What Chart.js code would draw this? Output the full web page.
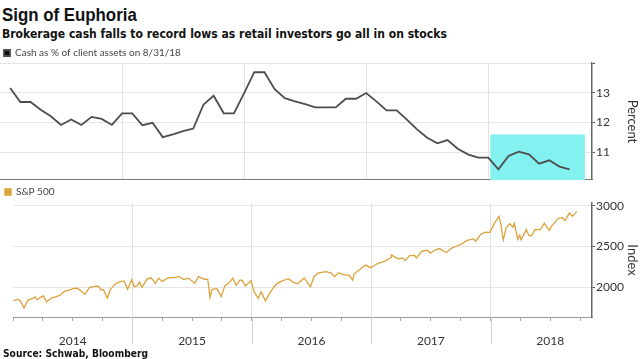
<!DOCTYPE html>
<html>
<head>
<meta charset="utf-8">
<script src="https://cdn.jsdelivr.net/npm/chart.js@4/dist/chart.umd.min.js"></script>
<style>
  html, body { margin: 0; padding: 0; background: #fff; }
  body { width: 640px; height: 359px; position: relative; overflow: hidden; }
  .txt { position: absolute; left: 2px; white-space: nowrap; transform-origin: 0 0; color: #111; line-height: 1; }
  #title { top: 4px; font: bold 18.6px 'Liberation Sans', Arial, sans-serif; }
  #subtitle { top: 27px; font: bold 11.5px 'DejaVu Sans', Verdana, sans-serif; }
  #source { top: 347px; left: 3px; font: bold 11px 'DejaVu Sans', Verdana, sans-serif; }
  .panel { position: absolute; left: 0; width: 640px; }
  #cashWrap { top: 44px; height: 136px; }
  #spxWrap { top: 182px; height: 170px; }
</style>
</head>
<body>
<span class="txt" id="title">Sign of Euphoria</span>
<span class="txt" id="subtitle">Brokerage cash falls to record lows as retail investors go all in on stocks</span>
<div class="panel" id="cashWrap"><canvas id="cashChart"></canvas></div>
<div class="panel" id="spxWrap"><canvas id="spxChart"></canvas></div>
<span class="txt" id="source">Source: Schwab, Bloomberg</span>
<script>
// Cash as % of client assets, month-end readings
const cashMonths = [
  '2014-01','2014-02','2014-03','2014-04','2014-05','2014-06','2014-07','2014-08','2014-09','2014-10','2014-11','2014-12',
  '2015-01','2015-02','2015-03','2015-04','2015-05','2015-06','2015-07','2015-08','2015-09','2015-10','2015-11','2015-12',
  '2016-01','2016-02','2016-03','2016-04','2016-05','2016-06','2016-07','2016-08','2016-09','2016-10','2016-11','2016-12',
  '2017-01','2017-02','2017-03','2017-04','2017-05','2017-06','2017-07','2017-08','2017-09','2017-10','2017-11','2017-12',
  '2018-01','2018-02','2018-03','2018-04','2018-05','2018-06','2018-07','2018-08'
];
const cashValues = [
  13.16, 12.69, 12.69, 12.43, 12.21, 11.92, 12.10, 11.92, 12.19, 12.12, 11.92, 12.31,
  12.31, 11.91, 11.99, 11.51, 11.60, 11.71, 11.80, 12.60, 12.90, 12.31, 12.31, 12.99,
  13.69, 13.69, 13.12, 12.82, 12.71, 12.62, 12.51, 12.51, 12.51, 12.80, 12.80, 12.99,
  12.71, 12.41, 12.41, 12.10, 11.77, 11.49, 11.30, 11.41, 11.12, 10.93, 10.82, 10.82,
  10.43, 10.88, 11.02, 10.93, 10.62, 10.73, 10.52, 10.43
];

// S&P 500 closes (sampled)
const spxDates = [
  '2014-01-02','2014-01-15','2014-01-23','2014-02-03','2014-02-14','2014-02-28','2014-03-07','2014-03-14','2014-03-21',
  '2014-04-02','2014-04-11','2014-04-25','2014-05-09','2014-05-23','2014-06-06','2014-06-20','2014-07-03','2014-07-16',
  '2014-07-31','2014-08-07','2014-08-21','2014-09-05','2014-09-18','2014-09-25','2014-10-03','2014-10-15','2014-10-24',
  '2014-11-07','2014-11-21','2014-12-05','2014-12-16','2014-12-29',
  '2015-01-06','2015-01-16','2015-01-22','2015-01-30','2015-02-13','2015-02-25','2015-03-10','2015-03-20','2015-03-31',
  '2015-04-15','2015-04-24','2015-05-08','2015-05-21','2015-06-05','2015-06-19','2015-07-08','2015-07-20','2015-08-05',
  '2015-08-18','2015-08-25','2015-08-31','2015-09-15','2015-09-28','2015-10-09','2015-10-22','2015-11-03','2015-11-13',
  '2015-11-25','2015-12-02','2015-12-11','2015-12-29',
  '2016-01-07','2016-01-20','2016-01-29','2016-02-11','2016-02-23','2016-03-07','2016-03-18','2016-04-01','2016-04-20',
  '2016-05-06','2016-05-19','2016-06-08','2016-06-27','2016-07-08','2016-07-22','2016-08-15','2016-08-31','2016-09-09',
  '2016-09-22','2016-10-07','2016-10-25','2016-11-04','2016-11-09','2016-11-25','2016-12-13','2016-12-30',
  '2017-01-13','2017-01-26','2017-02-10','2017-02-28','2017-03-01','2017-03-22','2017-04-06','2017-04-13','2017-04-26',
  '2017-05-12','2017-05-17','2017-06-02','2017-06-19','2017-06-29','2017-07-14','2017-07-27','2017-08-10','2017-08-18',
  '2017-09-01','2017-09-15','2017-10-02','2017-10-20','2017-11-08','2017-11-15','2017-11-30','2017-12-15','2017-12-29',
  '2018-01-12','2018-01-26','2018-02-02','2018-02-05','2018-02-08','2018-02-16','2018-02-26','2018-03-08','2018-03-12',
  '2018-03-23','2018-03-29','2018-04-02','2018-04-18','2018-04-25','2018-05-03','2018-05-15','2018-05-31','2018-06-12',
  '2018-06-27','2018-07-06','2018-07-25','2018-08-07','2018-08-15','2018-08-29','2018-09-07','2018-09-20'
];
const spxValues = [
  1832, 1848, 1828, 1741, 1838, 1859, 1878, 1841, 1866,
  1890, 1815, 1863, 1878, 1900, 1949, 1962, 1985, 1982,
  1931, 1910, 1992, 2007, 2011, 1965, 1967, 1862, 1964,
  2032, 2063, 2075, 1972, 2090,
  2003, 2019, 2063, 1995, 2097, 2114, 2044, 2108, 2068,
  2106, 2117, 2116, 2131, 2092, 2110, 2046, 2128, 2099,
  2096, 1867, 1972, 1979, 1881, 2014, 2052, 2109, 2023,
  2088, 2079, 2012, 2078,
  1944, 1859, 1940, 1829, 1921, 2001, 2049, 2073, 2102,
  2057, 2040, 2112, 2001, 2130, 2175, 2190, 2171, 2128,
  2177, 2153, 2143, 2085, 2163, 2213, 2271, 2239,
  2275, 2297, 2316, 2364, 2396, 2349, 2357, 2329, 2387,
  2390, 2357, 2439, 2453, 2419, 2459, 2475, 2438, 2425,
  2477, 2500, 2529, 2575, 2594, 2565, 2648, 2676, 2674,
  2786, 2873, 2762, 2649, 2581, 2732, 2780, 2738, 2784,
  2588, 2641, 2582, 2708, 2639, 2630, 2711, 2705, 2787,
  2700, 2760, 2846, 2858, 2819, 2914, 2872, 2931
];

const yearLabels = ['2014', '2015', '2016', '2017', '2018'];
const percentTicks = [11, 12, 13, 14];
const indexTicks = [2000, 2500, 3000];

// shaded "record low" window, in months since end of 2013 and percent
const highlightFrom = 48.2;
const highlightTo = 57.5;
const highlightTop = 11.6;

// x axis runs in months since 2013-12-31
const xMin = 0;
const xMax = 58.2;

function monthPos(str) {
  const p = str.split('-').map(Number);
  const y = p[0], m = p[1];
  const dim = new Date(y, m, 0).getDate();
  const d = p.length > 2 ? p[2] : dim;
  return (y - 2014) * 12 + (m - 1) + d / dim;
}

const cashPoints = cashMonths.map((m, i) => ({ x: monthPos(m), y: cashValues[i] }));
const spxPoints = spxDates.map((d, i) => ({ x: monthPos(d), y: spxValues[i] }));

const labelFont = { family: 'Lato, "Liberation Sans", sans-serif', size: 12 };
const legendFont = { family: '"Liberation Sans Narrow", Lato, sans-serif', size: 10 };
const quarterTicks = (scale) => {
  const t = [];
  for (let v = 0; v <= 57; v += 3) t.push({ value: v });
  scale.ticks = t;
};
const yearGrid = (ctx) => (ctx.tick && ctx.tick.value % 12 === 0 && ctx.tick.value > 0) ? '#e2e2e2' : 'rgba(0,0,0,0)';
// fixed axis width on the right so both panels line up
const fixRightAxis = (s) => { s.width = 48; s.paddingTop = 0; s.paddingBottom = 0; };

const highlightBox = {
  id: 'highlightBox',
  beforeDatasetsDraw(chart) {
    const { ctx, scales: { x, y } } = chart;
    const left = x.getPixelForValue(highlightFrom);
    const right = x.getPixelForValue(highlightTo);
    const top = y.getPixelForValue(highlightTop);
    const bottom = y.getPixelForValue(y.min);
    ctx.save();
    ctx.fillStyle = '#84f1f1';
    ctx.fillRect(left, top, right - left, bottom - top);
    ctx.restore();
  }
};

const yearTicks = {
  id: 'yearTicks',
  afterDraw(chart) {
    const { ctx, chartArea, scales: { x } } = chart;
    ctx.save();
    ctx.strokeStyle = '#d2d2d2';
    ctx.lineWidth = 1;
    [12, 24, 36, 48].forEach(v => {
      const px = Math.round(x.getPixelForValue(v)) + 0.5;
      ctx.beginPath();
      ctx.moveTo(px, chartArea.bottom);
      ctx.lineTo(px, chartArea.bottom + 27);
      ctx.stroke();
    });
    ctx.restore();
  }
};

new Chart(document.getElementById('cashChart'), {
  type: 'line',
  data: {
    datasets: [{
      label: 'Cash as % of client assets on 8/31/18',
      data: cashPoints,
      borderColor: '#4d4d4d',
      backgroundColor: '#111',
      borderWidth: 1.8,
      pointRadius: 0,
      tension: 0
    }]
  },
  options: {
    responsive: true,
    maintainAspectRatio: false,
    animation: false,
    devicePixelRatio: 1,
    layout: { padding: 0 },
    plugins: {
      legend: {
        position: 'top',
        align: 'start',
        maxHeight: 19,
        labels: { boxWidth: 6, boxHeight: 6, padding: 4, color: '#444', font: legendFont }
      },
      tooltip: { enabled: false }
    },
    scales: {
      x: {
        type: 'linear', min: xMin, max: xMax,
        afterBuildTicks: quarterTicks,
        afterFit: (s) => { s.height = 0; },
        ticks: { display: false },
        grid: { color: yearGrid, drawTicks: false },
        border: { color: '#7a7a7a', width: 2.5 }
      },
      y: {
        position: 'right', min: 10.07, max: 14,
        afterBuildTicks: (s) => { s.ticks = percentTicks.map(v => ({ value: v })); },
        afterFit: fixRightAxis,
        ticks: { color: '#333', font: labelFont, padding: 1, callback: (v) => v === 14 ? '' : String(v) },
        grid: { color: '#e6e6e6', tickLength: 3, tickColor: '#555' },
        border: { color: '#666', width: 1.5 },
        title: { display: true, text: 'Percent', color: '#333', font: { family: labelFont.family, size: 13 }, padding: { top: 0, bottom: 2 } }
      }
    }
  },
  plugins: [highlightBox]
});

new Chart(document.getElementById('spxChart'), {
  type: 'line',
  data: {
    datasets: [{
      label: 'S&P 500',
      data: spxPoints,
      borderColor: '#dda23c',
      backgroundColor: '#e8a23a',
      borderWidth: 1.3,
      pointRadius: 0,
      tension: 0
    }]
  },
  options: {
    responsive: true,
    maintainAspectRatio: false,
    animation: false,
    devicePixelRatio: 1,
    layout: { padding: 0 },
    plugins: {
      legend: {
        position: 'top',
        align: 'start',
        maxHeight: 21,
        labels: { boxWidth: 6, boxHeight: 6, padding: 5, color: '#444', font: legendFont }
      },
      tooltip: { enabled: false }
    },
    scales: {
      x: {
        type: 'linear', min: xMin, max: xMax,
        afterBuildTicks: quarterTicks,
        afterFit: (s) => { s.height = 35; },
        ticks: {
          color: '#333', font: labelFont, padding: 13, maxRotation: 0, autoSkip: false,
          callback: (v) => v % 12 === 6 ? yearLabels[(v - 6) / 12] : ''
        },
        grid: { color: yearGrid, tickLength: 4, tickColor: '#aaa' },
        border: { color: '#999', width: 1 }
      },
      y: {
        position: 'right', min: 1630, max: 3037,
        afterBuildTicks: (s) => { s.ticks = indexTicks.map(v => ({ value: v })); },
        afterFit: fixRightAxis,
        ticks: { color: '#333', font: labelFont, padding: 1, callback: (v) => String(v) },
        grid: { color: '#e6e6e6', tickLength: 3, tickColor: '#555' },
        border: { color: '#666', width: 1.5 },
        title: { display: true, text: 'Index', color: '#333', font: { family: labelFont.family, size: 13 }, padding: { top: 0, bottom: 2 } }
      }
    }
  },
  plugins: [yearTicks]
});

// squeeze header/footer text to the reference widths
function fitText(id, w) {
  const el = document.getElementById(id);
  el.style.transform = 'scaleX(' + (w / el.offsetWidth) + ')';
}
fitText('title', 135);
fitText('subtitle', 445);
fitText('source', 145);
</script>
</body>
</html>
